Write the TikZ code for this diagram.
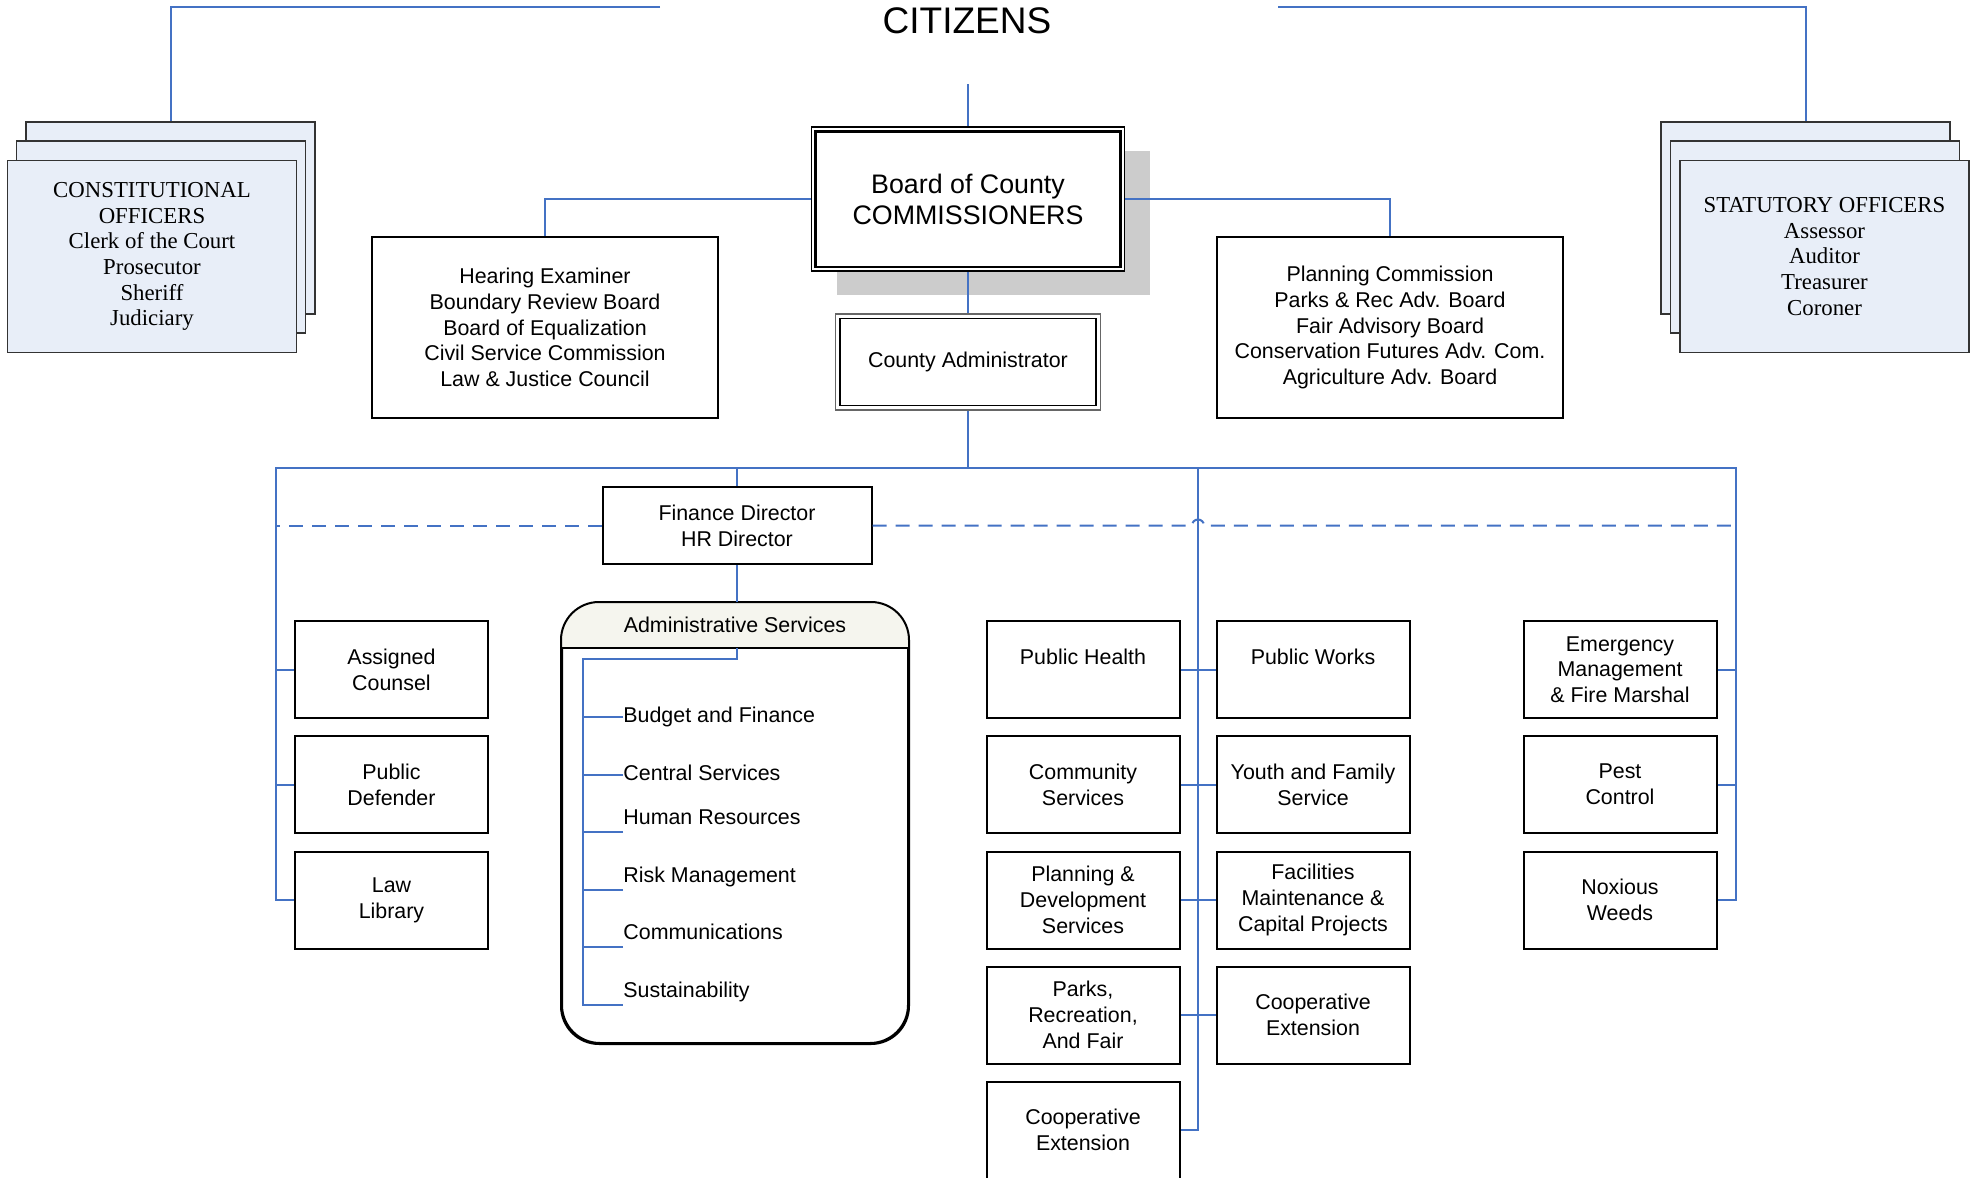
\documentclass[tikz,border=0pt]{standalone}
\usepackage{fontspec}
\setmainfont{Liberation Serif}
\setsansfont{Liberation Sans}
\usetikzlibrary{calc,shadows}
\definecolor{linkblue}{RGB}{68,114,196}
\definecolor{stackfill}{RGB}{232,238,248}
\definecolor{headfill}{RGB}{245,245,238}
\definecolor{shadowgray}{RGB}{204,204,204}

\begin{document}
\begin{tikzpicture}[x=0.5pt, y=-0.5pt,
		link/.style={draw=linkblue, line width=1pt},
		dashlink/.style={draw=linkblue, line width=1pt, dash pattern=on 7pt off 4.5pt},
		unit/.style={draw, line width=1pt, fill=white, minimum width=96.5pt, minimum height=48.5pt, inner sep=0pt, align=center, font=\sffamily\fontsize{10.7}{12.85}\selectfont},
		panel/.style={draw, line width=1pt, fill=white, minimum width=173pt, minimum height=90.5pt, inner sep=0pt, align=center, font=\sffamily\fontsize{10.7}{12.85}\selectfont},
		stack/.style={draw=black!80, line width=0.6pt, fill=stackfill, minimum width=144.5pt, minimum height=96pt, inner sep=0pt, align=center, font=\rmfamily\fontsize{11.4}{12.85}\selectfont},
		item/.style={anchor=west, inner sep=0pt, text height=7.8pt, text depth=2.2pt, font=\sffamily\fontsize{10.7}{13}\selectfont}]
		\useasboundingbox (0,0) rectangle (1982,1178);

		\node[font=\sffamily\fontsize{18.5}{22}\selectfont] (citizens) at (967,21) {CITIZENS};
		\coordinate (citleft) at (660,7);
		\coordinate (citright) at (1278,7);
		\coordinate (citdown) at (968,84);

		\node[stack] (consback) at (170.5,218) {};
		\node[stack] (consmid) at (161,237) {};
		\node[stack] (cons) at (152,256.5) {CONSTITUTIONAL\\OFFICERS\\Clerk of the Court\\Prosecutor\\Sheriff\\Judiciary};

		\node[stack] (statback) at (1805.5,218) {};
		\node[stack] (statmid) at (1815,237) {};
		\node[stack] (stat) at (1824.5,256.5) {STATUTORY OFFICERS\\Assessor\\Auditor\\Treasurer\\Coroner};

		\node[draw, line width=0.8pt, fill=white, minimum width=156.5pt, minimum height=72pt, align=center,
			font=\sffamily\fontsize{13.4}{15.5}\selectfont,
			drop shadow={shadow xshift=12.5pt, shadow yshift=-12pt, fill=shadowgray, opacity=1}] (board) at (968,199) {Board of County\\COMMISSIONERS};
		\draw[line width=1.3pt] ([shift={(2.5pt,-2.5pt)}]board.north west) rectangle ([shift={(-2.5pt,2.5pt)}]board.south east);

		\node[draw=black!60, line width=0.6pt, fill=white, minimum width=132.5pt, minimum height=48pt,
			font=\sffamily\fontsize{10.7}{12.85}\selectfont] (cadm) at (968,362) {County Administrator};
		\draw[line width=0.8pt] ([shift={(2.5pt,-2.5pt)}]cadm.north west) rectangle ([shift={(-2.5pt,2.5pt)}]cadm.south east);

		\node[panel] (hearing) at (545,327.5) {Hearing Examiner\\Boundary Review Board\\Board of Equalization\\Civil Service Commission\\Law \& Justice Council};
		\node[panel] (planning) at (1390,327.5) {Planning Commission\\Parks \& Rec Adv. Board\\Fair Advisory Board\\Conservation Futures Adv. Com.\\Agriculture Adv. Board};

		\draw[link] (citleft) -| (consback.north);
		\draw[link] (citright) -| (statback.north);
		\draw[link] (citdown) -- (board.north);
		\draw[link] (board.west) -| (hearing.north);
		\draw[link] (board.east) -| (planning.north);
		\draw[link] (board.south) -- (cadm.north);

		\node[draw, line width=1pt, fill=white, minimum width=134.5pt, minimum height=38.5pt, align=center,
			font=\sffamily\fontsize{10.7}{12.85}\selectfont] (finance) at (737,525.5) {Finance Director\\HR Director};

		\node[draw, line width=1pt, rounded corners=19pt, fill=white, minimum width=173pt, minimum height=220pt] (admin) at (735,823) {};
		\begin{scope}
			\clip (admin.north west) rectangle ([yshift=-23pt]admin.north east);
			\fill[headfill, rounded corners=19pt] (admin.north west) rectangle (admin.south east);
		\end{scope}
		\draw[line width=1pt, rounded corners=19pt] (admin.north west) rectangle (admin.south east);
		\draw[line width=1pt] ([yshift=-23pt]admin.north west) -- ([yshift=-23pt]admin.north east);
		\node[font=\sffamily\fontsize{10.7}{12.85}\selectfont] (adminhead) at (735,625) {Administrative Services};
		\coordinate (adminbar) at ([xshift=1pt,yshift=-23pt]admin.north);

		\node[item] (budget) at (623,717) {Budget and Finance};
		\node[item] (central) at (623,775) {Central Services};
		\node[item] (hres) at (623,819) {Human Resources};
		\node[item] (risk) at (623,877) {Risk Management};
		\node[item] (comms) at (623,934) {Communications};
		\node[item] (sustain) at (623,992) {Sustainability};

		\draw[link] (adminbar) -- ++(0,11) -| ([shift={(-20pt,-6.5pt)}]sustain.west) -- ([yshift=-6.5pt]sustain.west);
		\draw[link] (budget.west) -- ++(-20pt,0);
		\draw[link] (central.west) -- ++(-20pt,0);
		\draw[link] ([yshift=-6.5pt]hres.west) -- ++(-20pt,0);
		\draw[link] ([yshift=-6.5pt]risk.west) -- ++(-20pt,0);
		\draw[link] ([yshift=-6.5pt]comms.west) -- ++(-20pt,0);

		\node[unit] (assigned) at (391.5,669.5) {Assigned\\Counsel};
		\node[unit] (defender) at (391.5,784.5) {Public\\Defender};
		\node[unit] (law) at (391.5,900) {Law\\Library};

		\node[unit] (health) at (1083,669.5) {Public Health\\\mbox{}};
		\node[unit] (community) at (1083,784.5) {Community\\Services};
		\node[unit] (devserv) at (1083,900) {Planning \&\\Development\\Services};
		\node[unit] (parks) at (1083,1015) {Parks,\\Recreation,\\And Fair};
		\node[unit] (coopA) at (1083,1130) {Cooperative\\Extension};

		\node[unit] (works) at (1313,669.5) {Public Works\\\mbox{}};
		\node[unit] (youth) at (1313,784.5) {Youth and Family\\Service};
		\node[unit] (facilities) at (1313,900) {Facilities\\Maintenance \&\\Capital Projects};
		\node[unit] (coopB) at (1313,1015) {Cooperative\\Extension};

		\node[unit] (emergency) at (1620,669.5) {Emergency\\Management\\\& Fire Marshal};
		\node[unit] (pest) at (1620,784.5) {Pest\\Control};
		\node[unit] (noxious) at (1620,900) {Noxious\\Weeds};

		\coordinate (busleft) at (276,468);
		\coordinate (busright) at (1736,468);
		\coordinate (busmid) at (1198,468);

		\draw[link] (cadm.south) -- (cadm.south |- busleft);
		\draw[link] (law.west) -| (busleft) -- (busright) |- (noxious.east);
		\draw[link] (finance.north) -- (finance.north |- busleft);
		\draw[link] (finance.south) -- (finance.south |- admin.north);
		\draw[link] (busmid) |- (coopA.east);

		\draw[link] (assigned.west) -- (assigned.west -| busleft);
		\draw[link] (defender.west) -- (defender.west -| busleft);
		\draw[link] (health.east) -- (works.west);
		\draw[link] (community.east) -- (youth.west);
		\draw[link] (devserv.east) -- (facilities.west);
		\draw[link] (parks.east) -- (coopB.west);
		\draw[link] (emergency.east) -- (emergency.east -| busright);
		\draw[link] (pest.east) -- (pest.east -| busright);

		\draw[dashlink] (finance.west) -- (finance.west -| busleft);
		\draw[dashlink] (finance.east) -- ($(finance.east -| busmid)+(-3pt,0)$) arc[start angle=180, end angle=0, radius=3pt] -- (finance.east -| busright);
	\end{tikzpicture}
\end{document}
